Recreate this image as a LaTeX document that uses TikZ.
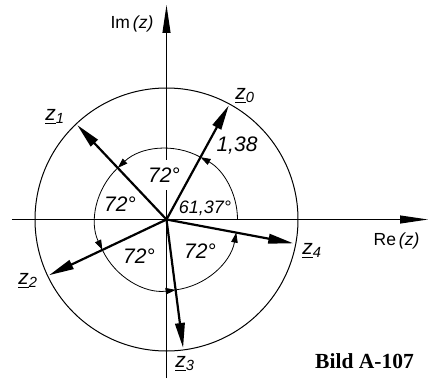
\documentclass[tikz,border=0pt]{standalone}
\usepackage{fontspec}
\setmainfont{Liberation Sans}
\newfontfamily\bildfont{Liberation Serif}
\usetikzlibrary{arrows.meta}
\newcommand\zund[1]{\setbox0\hbox{\itshape #1}\rlap{\rule[-3.5pt]{\wd0}{1.6pt}}\box0}
\newcommand\zlab[1]{\zund{z}\textsubscript{\itshape #1}}
\begin{document}
\begin{tikzpicture}[x=1pt,y=1pt,
  axis/.style={line width=1pt, -{Triangle[length=28pt,width=8pt]}},
  vec/.style={line width=2.2pt, -{Triangle[length=25pt,width=9.5pt]}},
  angarc/.style={line width=0.8pt, -{Triangle[length=10pt,width=6.5pt]}},
  circ/.style={line width=1pt},
  lbl/.style={font=\fontsize{21}{21}\selectfont\itshape, inner sep=1pt},
  small/.style={font=\fontsize{18}{18}\selectfont\itshape, inner sep=1pt},
  axlbl/.style={font=\fontsize{17.5}{17.5}\selectfont, inner sep=1pt},
  bild/.style={font=\fontsize{21.5}{21.5}\selectfont\bildfont\bfseries, inner sep=0pt}]
\useasboundingbox (-166.5,-158.5) rectangle (263.5,219.5);
\coordinate (O) at (0,0);
\coordinate (xl) at (-154.5,0);
\coordinate (xr) at (261.5,0);
\coordinate (yb) at (0,-158.5);
\coordinate (yt) at (0,214.5);
% circles
\draw[circ] (O) circle[radius=131.5];
% axes
\draw[axis] (xl) -- (xr);
\draw[axis] (yb) -- (yt);
% angle label on the axis (white background)
\node[lbl, fill=white, inner xsep=2pt, inner ysep=8pt] (a1) at (-2.5,44.5) {72°};
% inner arcs
\draw[angarc] (0:71) arc[start angle=0, end angle=61.37, radius=71];
\draw[angarc] (61.37:71) arc[start angle=61.37, end angle=133.37, radius=71];
\draw[angarc] (133.37:71) arc[start angle=133.37, end angle=205.37, radius=71];
\draw[angarc] (205.37:71) arc[start angle=205.37, end angle=277.37, radius=71];
\draw[angarc] (277.37:71) arc[start angle=277.37, end angle=349.37, radius=71];
% vector tips
\coordinate (t0) at (61.37:130);
\coordinate (t1) at (133.37:130);
\coordinate (t2) at (205.37:130);
\coordinate (t3) at (277.37:129.5);
\coordinate (t4) at (349.37:129);
\draw[vec] (O) -- (t0);
\draw[vec] (O) -- (t1);
\draw[vec] (O) -- (t2);
\draw[vec] (O) -- (t3);
\draw[vec] (O) -- (t4);
% labels
\node[axlbl] (im) at (-34.5,195.5) {Im\,\textit{(z)}};
\node[axlbl] (re) at (230,-21) {Re\,\textit{(z)}};
\node[lbl] (l0) at (78.5,123.5) {\zlab{0}};
\node[lbl] (l1) at (-111.5,102.5) {\zlab{1}};
\node[lbl] (l2) at (-138.5,-61.5) {\zlab{2}};
\node[lbl] (l3) at (18.5,-144.5) {\zlab{3}};
\node[lbl] (l4) at (145.5,-31.5) {\zlab{4}};
\node[lbl] (len) at (70.5,73.5) {1,38};
\node[small] (phi) at (38.5,11.5) {61,37°};
\node[lbl] (a2) at (-46.5,15.5) {72°};
\node[lbl] (a3) at (-27.5,-36.5) {72°};
\node[lbl] (a4) at (33.5,-31.5) {72°};
\node[bild] (cap) at (198,-141.5) {Bild A-107};
\end{tikzpicture}
\end{document}
